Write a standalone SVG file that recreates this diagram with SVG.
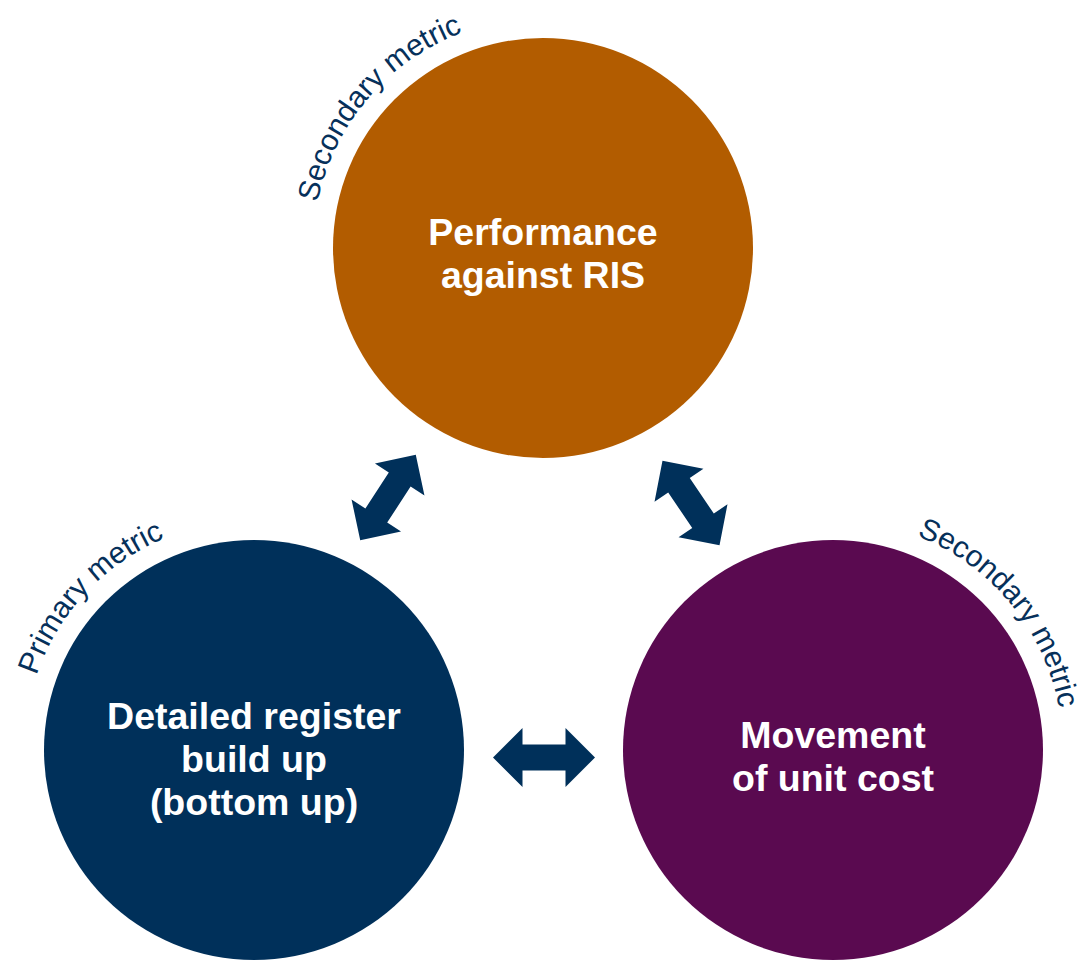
<svg xmlns="http://www.w3.org/2000/svg" xmlns:xlink="http://www.w3.org/1999/xlink" width="1081" height="961" viewBox="0 0 1081 961">
<style>
.node-label{font-family:"Liberation Sans",Arial,sans-serif;font-weight:bold;font-size:37.5px;fill:#ffffff;text-anchor:middle}
.metric{font-family:"Liberation Sans",Arial,sans-serif;font-size:30px;fill:#06305a}
.arrow{fill:#00305a}
</style>
<defs>
<path id="arcTop" d="M326.2,324.8 A230,230 0 0 1 584.9,21.8" fill="none"/>
<path id="arcLeft" d="M34.1,817.2 A230,230 0 0 1 305.7,525.9" fill="none"/>
<path id="arcRight" d="M795.0,523.2 A230,230 0 0 1 1048.4,830.5" fill="none"/>
<polygon id="dblArrow" points="-51,0 -21.5,-29.5 -21.5,-13 21.5,-13 21.5,-29.5 51,0 21.5,29.5 21.5,13 -21.5,13 -21.5,29.5"/>
</defs>
<rect width="1081" height="961" fill="#ffffff"/>
<g id="node-ris">
<circle cx="543" cy="248" r="210" fill="#b25c00"/>
<text class="node-label" x="543" y="245">Performance</text>
<text class="node-label" x="543" y="288">against RIS</text>
<text class="metric"><textPath xlink:href="#arcTop" href="#arcTop" startOffset="50%" text-anchor="middle">Secondary metric</textPath></text>
</g>
<g id="node-register">
<circle cx="254" cy="750" r="210" fill="#00305a"/>
<text class="node-label" x="254" y="729">Detailed register</text>
<text class="node-label" x="254" y="772">build up</text>
<text class="node-label" x="254" y="815">(bottom up)</text>
<text class="metric"><textPath xlink:href="#arcLeft" href="#arcLeft" startOffset="50%" text-anchor="middle">Primary metric</textPath></text>
</g>
<g id="node-unitcost">
<circle cx="833" cy="750" r="210" fill="#5a0a50"/>
<text class="node-label" x="833" y="748">Movement</text>
<text class="node-label" x="833" y="791">of unit cost</text>
<text class="metric"><textPath xlink:href="#arcRight" href="#arcRight" startOffset="50%" text-anchor="middle">Secondary metric</textPath></text>
</g>
<g id="connectors" class="arrow">
<use href="#dblArrow" xlink:href="#dblArrow" transform="translate(388,497.5) rotate(-57)"/>
<use href="#dblArrow" xlink:href="#dblArrow" transform="translate(691,503) rotate(56)"/>
<use href="#dblArrow" xlink:href="#dblArrow" transform="translate(544,757.5)"/>
</g>
</svg>
